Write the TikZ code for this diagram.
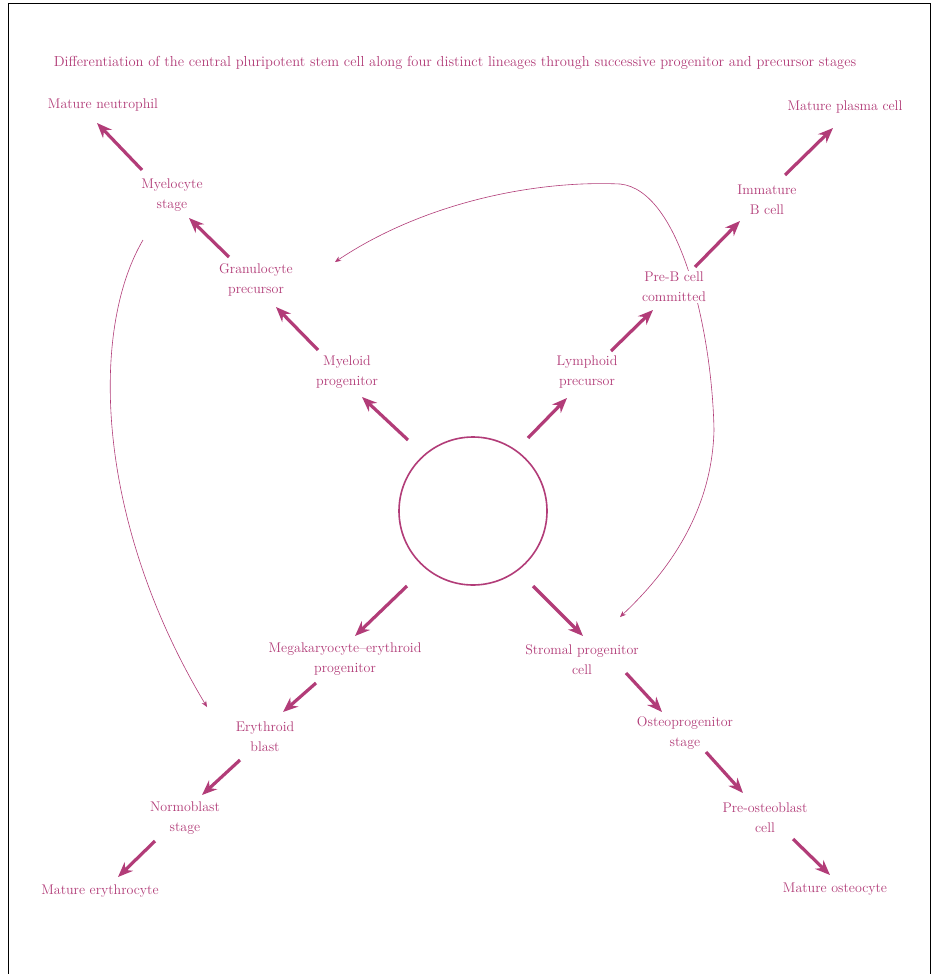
\documentclass[tikz,border=0pt]{standalone}
\usetikzlibrary{arrows.meta}
\definecolor{pk}{RGB}{178,60,120}
\begin{document}
\begin{tikzpicture}[x=1pt,y=-1pt,
  lbl/.style={text=pk,fill=white,font=\fontsize{14}{20}\selectfont,align=center,inner sep=1pt},
  arr/.style={draw=pk,line width=3.2pt,-{Stealth[length=15pt,width=12pt]}},
  thin/.style={draw=pk,line width=0.6pt},
  hubstyle/.style={draw=pk,circle,line width=1.6pt,minimum size=148pt,inner sep=0pt}]
\useasboundingbox (0,0) rectangle (935,974);
\fill[white] (0,0) rectangle (935,974);
\draw[black,line width=0.8pt] (8,3) rectangle (930,990);
% curved connectors (drawn first, under the labels)
\coordinate (k1) at (335,262);
\coordinate (k2) at (620,184);
\coordinate (k3) at (714,430);
\coordinate (k4) at (620,617);
\draw[thin,{Stealth[length=6pt,width=5pt]}-{Stealth[length=6pt,width=5pt]}] (k1) .. controls (420,205) and (530,180) .. (k2) .. controls (680,190) and (712,330) .. (k3) .. controls (712,510) and (670,570) .. (k4);
\coordinate (m1) at (143,240);
\coordinate (m2) at (207,707);
\draw[thin,-{Stealth[length=6pt,width=5pt]}] (m1) .. controls (90,330) and (95,520) .. (m2);
% title
\node[text=pk,font=\fontsize{14.5}{17}\selectfont] (title) at (455,63) {Differentiation of the central pluripotent stem cell along four distinct lineages through successive progenitor and precursor stages};
% hub
\node[hubstyle] (hub) at (473,511) {};
% labels
\node[lbl] (tl1) at (347,372) {Myeloid\\progenitor};
\node[lbl] (tl2) at (256,280) {Granulocyte\\precursor};
\node[lbl] (tl3) at (172,195) {Myelocyte\\stage};
\node[lbl] (tl4) at (103,105) {Mature neutrophil};
\node[lbl] (tr1) at (587,372) {Lymphoid\\precursor};
\node[lbl] (tr2) at (674,287) {Pre-B cell\\committed};
\node[lbl] (tr3) at (767,200) {Immature\\B cell};
\node[lbl] (tr4) at (845,107) {Mature plasma cell};
\node[lbl] (bl1) at (345,659) {Megakaryocyte--erythroid\\progenitor};
\node[lbl] (bl2) at (265,737) {Erythroid\\blast};
\node[lbl] (bl3) at (185,818) {Normoblast\\stage};
\node[lbl] (bl4) at (100,891) {Mature erythrocyte};
\node[lbl] (br1) at (582,660) {Stromal progenitor\\cell};
\node[lbl] (br2) at (685,733) {Osteoprogenitor\\stage};
\node[lbl] (br3) at (765,818) {Pre-osteoblast\\cell};
\node[lbl] (br4) at (835,889) {Mature osteocyte};
% arrow ends
\coordinate (a1s) at (408,440); \coordinate (a1e) at (362,397);
\coordinate (a2s) at (318,350); \coordinate (a2e) at (276,307);
\coordinate (a3s) at (229,257); \coordinate (a3e) at (189,218);
\coordinate (a4s) at (142,170); \coordinate (a4e) at (97,123);
\coordinate (b1s) at (528,438); \coordinate (b1e) at (567,398);
\coordinate (b2s) at (611,351); \coordinate (b2e) at (653,310);
\coordinate (b3s) at (695,267); \coordinate (b3e) at (740,221);
\coordinate (b4s) at (785,175); \coordinate (b4e) at (833,128);
\coordinate (c1s) at (407,586); \coordinate (c1e) at (355,636);
\coordinate (c2s) at (316,683); \coordinate (c2e) at (283,712);
\coordinate (c3s) at (240,760); \coordinate (c3e) at (202,795);
\coordinate (c4s) at (155,841); \coordinate (c4e) at (118,877);
\coordinate (d1s) at (533,586); \coordinate (d1e) at (583,636);
\coordinate (d2s) at (626,673); \coordinate (d2e) at (662,712);
\coordinate (d3s) at (706,752); \coordinate (d3e) at (743,793);
\coordinate (d4s) at (793,839); \coordinate (d4e) at (830,875);
\foreach \p in {a,b,c,d}{\foreach \i in {1,2,3,4}{\draw[arr] (\p\i s) -- (\p\i e);}}
\end{tikzpicture}
\end{document}
